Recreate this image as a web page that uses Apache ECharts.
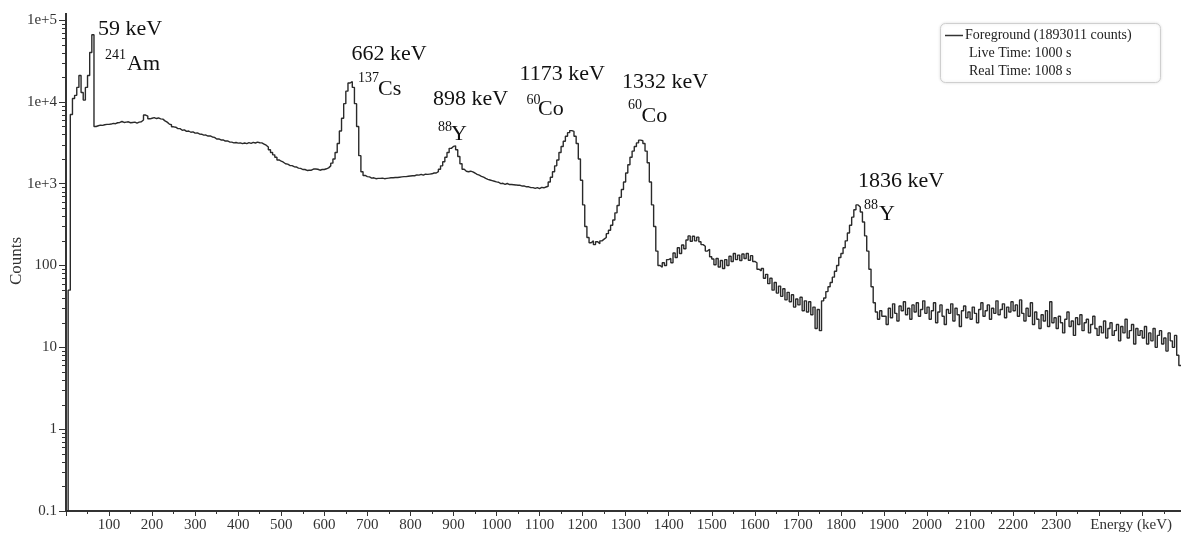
<!DOCTYPE html>
<html>
<head>
<meta charset="utf-8">
<script src="https://cdn.jsdelivr.net/npm/echarts@6/dist/echarts.min.js"></script>
<style>
  html, body { margin: 0; padding: 0; background: #fff; }
  #chart { width: 1181px; height: 534px; }
</style>
</head>
<body>
<div id="chart"></div>
<script>
// Gamma spectrum, 5 keV per bin, counts per bin (bin left edge = index * binWidthKeV)
const binWidthKeV = 5;
const energyMaxKeV = 2590;
const counts = [
  // 0 - 95 keV
  0.1, 50, 7000, 11000, 12000, 15000, 21000, 13000, 10500, 15000, 21000, 40000, 66000, 5000, 5100, 5200, 5150, 5250, 5300, 5300,
  // 100 - 195 keV
  5350, 5450, 5400, 5550, 5600, 5750, 5600, 5650, 5700, 5550, 5600, 5650, 5500, 5650, 5700, 6000, 6900, 6700, 6200, 6300,
  // 200 - 295 keV
  6400, 6250, 6350, 6200, 6150, 5850, 5650, 5350, 5250, 4950, 4900, 4700, 4700, 4500, 4550, 4350, 4400, 4250, 4300, 4150,
  // 300 - 395 keV
  4180, 4050, 4020, 3920, 3930, 3820, 3830, 3720, 3680, 3520, 3530, 3420, 3430, 3320, 3330, 3230, 3220, 3150, 3180, 3130,
  // 400 - 495 keV
  3150, 3080, 3140, 3090, 3170, 3110, 3200, 3140, 3220, 3160, 3150, 3050, 2950, 2800, 2600, 2400, 2250, 2100, 1950, 1880,
  // 500 - 595 keV
  1830, 1750, 1730, 1670, 1660, 1610, 1600, 1550, 1540, 1490, 1490, 1450, 1460, 1460, 1510, 1510, 1500, 1460, 1490, 1490,
  // 600 - 695 keV
  1520, 1560, 1650, 1780, 2000, 2400, 3100, 4400, 6300, 9500, 13500, 17000, 17700, 15000, 9500, 5000, 2200, 1400, 1260, 1220,
  // 700 - 795 keV
  1210, 1170, 1180, 1150, 1160, 1160, 1170, 1150, 1160, 1170, 1180, 1180, 1190, 1190, 1200, 1210, 1220, 1220, 1230, 1240,
  // 800 - 895 keV
  1250, 1250, 1280, 1270, 1300, 1270, 1310, 1300, 1310, 1320, 1350, 1350, 1400, 1500, 1650, 1850, 2100, 2400, 2700, 2850,
  // 900 - 995 keV
  2900, 2600, 2150, 1750, 1500, 1420, 1400, 1420, 1390, 1350, 1300, 1270, 1230, 1200, 1160, 1130, 1110, 1090, 1070, 1050,
  // 1000 - 1095 keV
  1040, 1000, 1010, 980, 1005, 975, 975, 970, 965, 955, 955, 935, 935, 915, 915, 895, 895, 875, 895, 870,
  // 1100 - 1195 keV
  900, 890, 910, 930, 1050, 1200, 1400, 1650, 1950, 2400, 2850, 3300, 3800, 4200, 4450, 4350, 3800, 3100, 2000, 1100,
  // 1200 - 1295 keV
  550, 300, 220, 190, 200, 180, 195, 185, 200, 210, 220, 245, 270, 310, 360, 440, 540, 680, 850, 1050,
  // 1300 - 1395 keV
  1350, 1700, 2100, 2500, 2850, 3150, 3400, 3350, 3100, 2500, 1800, 1050, 550, 300, 150, 100, 95, 108, 100, 118,
  // 1400 - 1495 keV
  122, 108, 142, 125, 165, 140, 178, 160, 205, 230, 198, 228, 200, 222, 195, 180, 172, 150, 158, 128,
  // 1500 - 1595 keV
  120, 102, 122, 96, 115, 92, 118, 100, 130, 112, 140, 118, 134, 115, 138, 122, 140, 116, 132, 112,
  // 1600 - 1695 keV
  108, 90, 86, 92, 70, 78, 60, 70, 50, 62, 46, 56, 42, 52, 38, 47, 36, 44, 31, 39,
  // 1700 - 1795 keV
  33, 41, 28, 37, 27, 36, 25, 31, 17, 29, 16, 37, 40, 48, 55, 62, 72, 85, 100, 125,
  // 1800 - 1895 keV
  140, 165, 200, 250, 310, 390, 480, 550, 520, 450, 340, 230, 150, 90, 55, 35, 27, 22, 28, 24,
  // 1900 - 1995 keV
  24, 19, 30, 23, 34, 26, 21, 32, 28, 36, 25, 30, 22, 33, 27, 35, 24, 29, 37, 26,
  // 2000 - 2095 keV
  31, 22, 28, 35, 20, 27, 33, 24, 19, 29, 26, 34, 21, 30, 25, 18, 28, 32, 23, 27,
  // 2100 - 2195 keV
  22, 31, 26, 20, 29, 35, 24, 28, 33, 22, 30, 26, 37, 25, 29, 34, 23, 31, 27, 36,
  // 2200 - 2295 keV
  28, 33, 24, 38, 26, 21, 30, 24, 35, 19, 27, 22, 17, 25, 21, 28, 18, 36, 20, 23,
  // 2300 - 2395 keV
  17, 24, 20, 15, 22, 27, 18, 21, 14, 23, 19, 25, 16, 20, 22, 15, 19, 24, 17, 14,
  // 2400 - 2495 keV
  18, 15, 21, 13, 17, 20, 14, 16, 19, 12, 18, 15, 22, 13, 16, 19, 11, 17, 14, 16,
  // 2500 - 2585 keV
  13, 18, 11, 15, 12, 17, 10, 14, 16, 11, 13, 9, 15, 12, 10, 14, 8, 6
];

// Axis tick labels
const yTickValues = [0.1, 1, 10, 100, 1e3, 1e4, 1e5];
const yTickLabels = ['0.1', '1', '10', '100', '1e+3', '1e+4', '1e+5'];
const xLabelRange = [100, 2300];
const xAxisTitle = 'Energy (keV)';
const yAxisTitle = 'Counts';

// Peak annotations
const peakLabels = ['59 keV', '662 keV', '898 keV', '1173 keV', '1332 keV', '1836 keV'];
const isotopeMass = ['241', '137', '88', '60', '60', '88'];
const isotopeSymbol = ['Am', 'Cs', 'Y', 'Co', 'Co', 'Y'];

// Legend text
const seriesName = 'Foreground (1893011 counts)';
const legendInfo = ['Live Time: 1000 s', 'Real Time: 1008 s'];

// ---- build ----
const spectrum = counts.map((c, i) => [i * binWidthKeV, c]);
spectrum.push([energyMaxKeV, counts[counts.length - 1]]);

// logarithmic minor ticks (2..9 in each decade)
const minorTicks = [];
for (let k = -1; k <= 4; k++) {
  for (let m = 2; m <= 9; m++) minorTicks.push([0, m * Math.pow(10, k)]);
}

const serif = 'Liberation Serif, Times New Roman, serif';
const axisColor = '#333';
const inkColor = '#111';

// annotation placement (pixels): peak text left/middle, mass number, element symbol
const annotationLayout = [
  { keV: [98, 29], sup: [105, 55], sym: [127, 64.5] },
  { keV: [351.5, 54], sup: [358, 78], sym: [378, 89] },
  { keV: [433, 99], sup: [438, 127], sym: [451, 134] },
  { keV: [519.5, 74], sup: [526.5, 100], sym: [538, 109] },
  { keV: [622, 82], sup: [628, 105], sym: [641.5, 116] },
  { keV: [858, 181], sup: [864, 205], sym: [879, 214] }
];

const graphics = [];
peakLabels.forEach((label, i) => {
  const L = annotationLayout[i];
  graphics.push({
    type: 'text', x: L.keV[0], y: L.keV[1], silent: true,
    style: { text: label, font: '22px ' + serif, fill: inkColor, align: 'left', verticalAlign: 'middle' }
  });
  graphics.push({
    type: 'text', x: L.sup[0], y: L.sup[1], silent: true,
    style: { text: isotopeMass[i], font: '14px ' + serif, fill: inkColor, align: 'left', verticalAlign: 'middle' }
  });
  graphics.push({
    type: 'text', x: L.sym[0], y: L.sym[1], silent: true,
    style: { text: isotopeSymbol[i], font: '22px ' + serif, fill: inkColor, align: 'left', verticalAlign: 'middle' }
  });
});

// legend box
graphics.push({
  type: 'rect', silent: true, z: 10,
  shape: { x: 940.5, y: 23.5, width: 220, height: 59, r: 5 },
  style: { fill: '#fff', stroke: '#cfcfcf', lineWidth: 1, shadowBlur: 3, shadowColor: 'rgba(0,0,0,0.12)' }
});
graphics.push({
  type: 'line', silent: true, z: 11,
  shape: { x1: 945, y1: 35.5, x2: 963, y2: 35.5 },
  style: { stroke: '#333', lineWidth: 1.5 }
});
graphics.push({
  type: 'text', x: 965, y: 35, silent: true, z: 11,
  style: { text: seriesName, font: '14px ' + serif, fill: '#222', align: 'left', verticalAlign: 'middle' }
});
legendInfo.forEach((t, i) => {
  graphics.push({
    type: 'text', x: 969, y: 53 + i * 18, silent: true, z: 11,
    style: { text: t, font: '14px ' + serif, fill: '#222', align: 'left', verticalAlign: 'middle' }
  });
});

// axis titles
graphics.push({
  type: 'text', x: 17, y: 261, rotation: Math.PI / 2, silent: true,
  style: { text: yAxisTitle, font: '17px ' + serif, fill: axisColor, align: 'center', verticalAlign: 'middle' }
});
graphics.push({
  type: 'text', x: 1172, y: 525, silent: true,
  style: { text: xAxisTitle, font: '15px ' + serif, fill: axisColor, align: 'right', verticalAlign: 'middle' }
});
// y axis line runs a little past the top decade
graphics.push({
  type: 'line', silent: true,
  shape: { x1: 66, y1: 13, x2: 66, y2: 21 },
  style: { stroke: axisColor, lineWidth: 2 }
});

const chart = echarts.init(document.getElementById('chart'), null, { renderer: 'canvas' });
chart.setOption({
  animation: false,
  backgroundColor: '#fff',
  grid: { left: 66, right: 0, top: 20, bottom: 23, containLabel: false, outerBoundsMode: 'none' },
  xAxis: {
    type: 'value',
    min: 0,
    max: energyMaxKeV,
    interval: 100,
    axisLine: { onZero: false, lineStyle: { color: axisColor, width: 2 } },
    axisTick: { length: 5, lineStyle: { color: axisColor, width: 1 } },
    minorTick: { show: true, splitNumber: 2, length: 3, lineStyle: { color: axisColor, width: 1 } },
    splitLine: { show: false },
    axisLabel: {
      color: axisColor, fontFamily: serif, fontSize: 15, margin: 7,
      formatter: v => (v >= xLabelRange[0] && v <= xLabelRange[1]) ? String(v) : ''
    }
  },
  yAxis: {
    type: 'log',
    logBase: 10,
    min: yTickValues[0],
    max: yTickValues[yTickValues.length - 1],
    axisLine: { show: true, onZero: false, lineStyle: { color: axisColor, width: 2 } },
    axisTick: { show: true, length: 7, lineStyle: { color: axisColor, width: 1 } },
    splitLine: { show: false },
    axisLabel: {
      color: axisColor, fontFamily: serif, fontSize: 15, margin: 9,
      formatter: v => {
        const i = yTickValues.findIndex(t => Math.abs(Math.log10(t) - Math.log10(v)) < 1e-6);
        return i >= 0 ? yTickLabels[i] : '';
      }
    }
  },
  series: [
    {
      name: seriesName,
      type: 'line',
      step: 'end',
      data: spectrum,
      showSymbol: false,
      symbol: 'none',
      lineStyle: { color: '#2a2a2a', width: 1.4 },
      z: 3
    },
    {
      name: 'minorTicks',
      type: 'custom',
      data: minorTicks,
      clip: false,
      silent: true,
      z: 4,
      renderItem: (params, api) => {
        const p = api.coord([api.value(0), api.value(1)]);
        return {
          type: 'line',
          shape: { x1: p[0] - 4, y1: Math.round(p[1]) + 0.5, x2: p[0], y2: Math.round(p[1]) + 0.5 },
          style: { stroke: axisColor, lineWidth: 1 }
        };
      }
    }
  ],
  graphic: graphics
});
</script>
</body>
</html>
